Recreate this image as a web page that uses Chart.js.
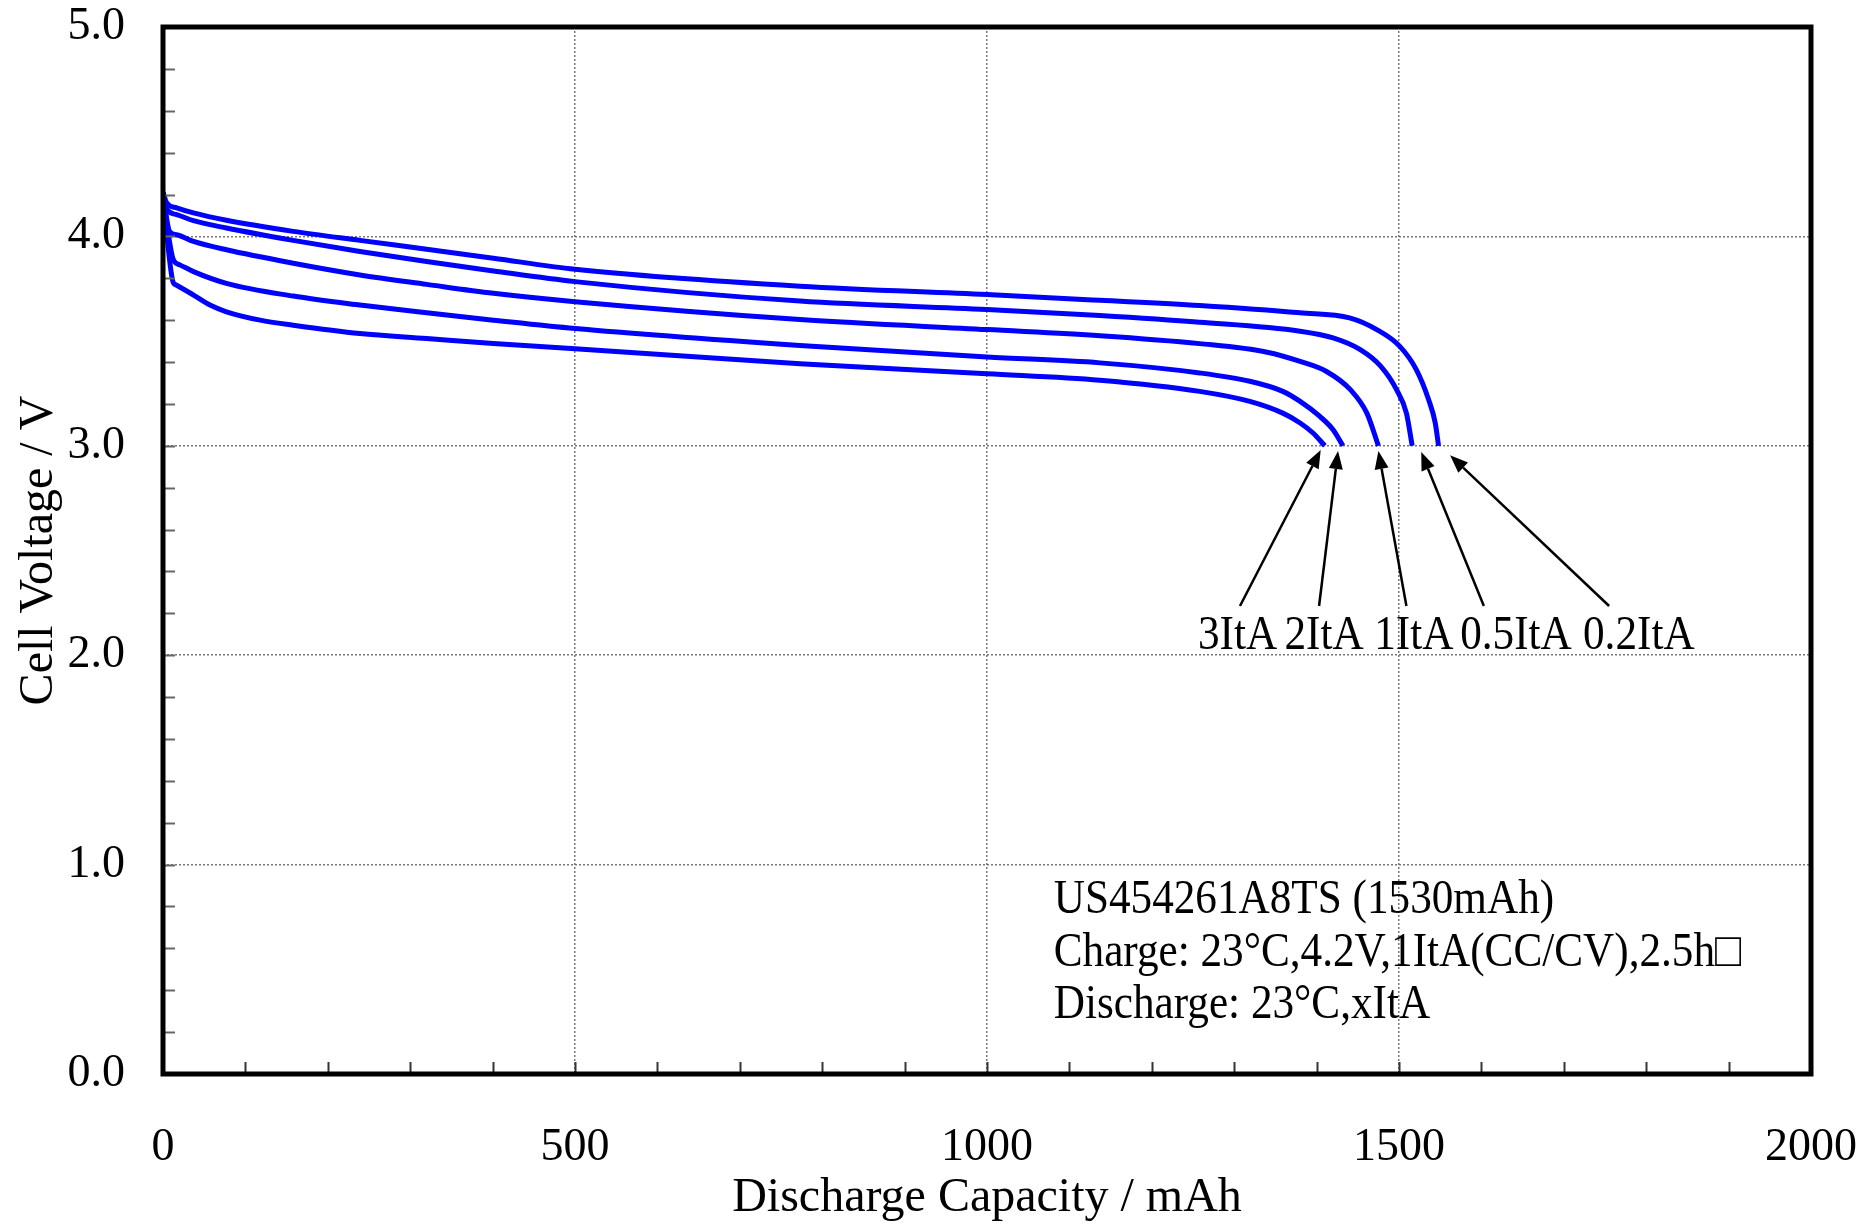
<!DOCTYPE html>
<html>
<head>
<meta charset="utf-8">
<title>Discharge characteristics</title>
<script src="https://cdn.jsdelivr.net/npm/chart.js@4.4.1/dist/chart.umd.min.js"></script>
<style>
  html, body { margin: 0; padding: 0; background: #fff; }
  canvas { display: block; }
</style>
</head>
<body>
<canvas id="dischargeChart" width="1865" height="1225"></canvas>
<script>
// ค่าที่อ่านจากกราฟ (mAh, V)
var capacity02 = [0, 4.5, 16.6, 37, 77, 158, 239, 320, 401, 500, 773, 1000, 1137, 1258, 1380, 1440, 1473, 1501, 1521, 1536, 1544, 1548];
var voltage02  = [4.21, 4.16, 4.136, 4.112, 4.077, 4.024, 3.981, 3.939, 3.896, 3.843, 3.762, 3.722, 3.695, 3.670, 3.635, 3.611, 3.555, 3.475, 3.364, 3.22, 3.109, 3.0];

var capacity05 = [0, 4.5, 16.6, 37, 77, 158, 239, 320, 401, 500, 773, 1000, 1137, 1258, 1380, 1420, 1453, 1478, 1497, 1509, 1516];
var voltage05  = [4.21, 4.131, 4.104, 4.075, 4.04, 3.981, 3.928, 3.88, 3.835, 3.784, 3.691, 3.651, 3.622, 3.59, 3.547, 3.515, 3.459, 3.379, 3.268, 3.156, 3.0];

var capacity1 = [0, 8, 16.6, 37, 77, 158, 239, 320, 401, 500, 773, 1000, 1137, 1258, 1340, 1380, 1412, 1441, 1461, 1475];
var voltage1  = [4.2, 4.024, 4.008, 3.976, 3.936, 3.872, 3.816, 3.771, 3.728, 3.688, 3.603, 3.555, 3.526, 3.488, 3.447, 3.403, 3.355, 3.268, 3.156, 3.0];

var capacity2 = [0, 12.6, 20, 37, 77, 158, 239, 320, 401, 500, 773, 1000, 1137, 1258, 1319, 1359, 1380, 1404, 1420, 1432];
var voltage2  = [4.19, 3.888, 3.865, 3.832, 3.776, 3.715, 3.672, 3.635, 3.6, 3.56, 3.479, 3.424, 3.396, 3.348, 3.308, 3.26, 3.212, 3.14, 3.077, 3.0];

var capacity3 = [0, 12, 16, 37, 57, 77, 118, 158, 239, 320, 401, 500, 773, 1000, 1137, 1258, 1319, 1359, 1380, 1396, 1410];
var voltage3  = [4.19, 3.785, 3.768, 3.72, 3.672, 3.64, 3.6, 3.576, 3.536, 3.512, 3.488, 3.464, 3.392, 3.344, 3.313, 3.26, 3.212, 3.156, 3.109, 3.06, 3.0];

// ป้ายกระแส + ลูกศร (ตำแหน่งเป็นค่าบนแกน)
var rateLabels = ["3ItA", "2ItA", "1ItA", "0.5ItA", "0.2ItA"];
var labelCenter = [1304, 1409, 1518, 1642, 1791];
var arrowTailX = [1307, 1403, 1509, 1603, 1755];
var arrowTipX  = [1405, 1426, 1475, 1527, 1562];
var arrowTipY  = [2.98, 2.975, 2.975, 2.97, 2.955];

var infoLines = [
  "US454261A8TS (1530mAh)",
  "Charge: 23°C,4.2V,1ItA(CC/CV),2.5h□",
  "Discharge: 23°C,xItA"
];
var infoBaseY = [0.767, 0.517, 0.267];

function toPoints(xs, ys) {
  return xs.map(function (x, i) { return { x: x, y: ys[i] }; });
}

var serif = "'Liberation Serif', 'Times New Roman', serif";

// วาดกรอบ, ขีดย่อย, ลูกศร และข้อความ
var decorPlugin = {
  id: 'decor',
  afterDatasetsDraw: function (chart) {
    var ctx = chart.ctx;
    var xs = chart.scales.x, ys = chart.scales.y;
    var a = chart.chartArea;
    ctx.save();

    // ขีดย่อยแกน y
    ctx.strokeStyle = '#666';
    ctx.lineWidth = 2;
    for (var v = 0.2; v < 5; v += 0.2) {
      var py = Math.round(ys.getPixelForValue(v)) + 0.5;
      ctx.beginPath();
      ctx.moveTo(a.left, py);
      ctx.lineTo(a.left + 12, py);
      ctx.stroke();
    }
    // ขีดย่อยแกน x
    ctx.strokeStyle = '#333';
    for (var c = 100; c < 2000; c += 100) {
      var px = Math.round(xs.getPixelForValue(c)) + 0.5;
      ctx.beginPath();
      ctx.moveTo(px, a.bottom);
      ctx.lineTo(px, a.bottom - 12);
      ctx.stroke();
    }

    // กรอบหนา
    ctx.strokeStyle = '#000';
    ctx.lineWidth = 5;
    ctx.strokeRect(a.left, a.top, a.right - a.left, a.bottom - a.top);

    // ลูกศร
    ctx.fillStyle = '#000';
    ctx.lineWidth = 2.5;
    for (var i = 0; i < rateLabels.length; i++) {
      var x1 = xs.getPixelForValue(arrowTailX[i]);
      var y1 = ys.getPixelForValue(2.235);
      var x2 = xs.getPixelForValue(arrowTipX[i]);
      var y2 = ys.getPixelForValue(arrowTipY[i]);
      var ang = Math.atan2(y2 - y1, x2 - x1);
      var hl = 18, hw = 7;
      var bx = x2 - hl * Math.cos(ang), by = y2 - hl * Math.sin(ang);
      ctx.beginPath();
      ctx.moveTo(x1, y1);
      ctx.lineTo(bx, by);
      ctx.stroke();
      ctx.beginPath();
      ctx.moveTo(x2, y2);
      ctx.lineTo(bx + hw * Math.sin(ang), by - hw * Math.cos(ang));
      ctx.lineTo(bx - hw * Math.sin(ang), by + hw * Math.cos(ang));
      ctx.closePath();
      ctx.fill();
    }

    // ข้อความ (ตัวอักษรแคบลงเล็กน้อยตามต้นฉบับ)
    ctx.font = "48px " + serif;
    ctx.textBaseline = 'alphabetic';
    for (var j = 0; j < rateLabels.length; j++) {
      ctx.save();
      ctx.translate(xs.getPixelForValue(labelCenter[j]), ys.getPixelForValue(2.03));
      ctx.scale(0.9, 1);
      ctx.textAlign = 'center';
      ctx.fillText(rateLabels[j], 0, 0);
      ctx.restore();
    }
    for (var k = 0; k < infoLines.length; k++) {
      ctx.save();
      ctx.translate(xs.getPixelForValue(1081), ys.getPixelForValue(infoBaseY[k]));
      ctx.scale(0.9, 1);
      ctx.textAlign = 'left';
      ctx.fillText(infoLines[k], 0, 0);
      ctx.restore();
    }
    ctx.restore();
  }
};

function curve(label, xs, ys) {
  return {
    label: label,
    data: toPoints(xs, ys),
    borderColor: '#0000ff',
    borderWidth: 5,
    pointRadius: 0,
    fill: false,
    cubicInterpolationMode: 'monotone'
  };
}

var ctx = document.getElementById("dischargeChart").getContext('2d');
var dischargeChart = new Chart(ctx, {
  type: 'line',
  data: {
    datasets: [
      curve("0.2ItA", capacity02, voltage02),
      curve("0.5ItA", capacity05, voltage05),
      curve("1ItA", capacity1, voltage1),
      curve("2ItA", capacity2, voltage2),
      curve("3ItA", capacity3, voltage3)
    ]
  },
  options: {
    responsive: false,
    animation: false,
    devicePixelRatio: 1,
    layout: { padding: { top: 27, right: 54, left: 0, bottom: 0 } },
    plugins: {
      legend: { display: false },
      tooltip: { enabled: false }
    },
    scales: {
      x: {
        type: 'linear',
        min: 0,
        max: 2000,
        afterFit: function (s) {
          s.height = 151;
          s.paddingLeft = 0;
          s.paddingRight = 0;
        },
        ticks: {
          stepSize: 500,
          color: '#000',
          padding: 46,
          maxRotation: 0,
          font: { family: serif, size: 46 },
          callback: function (v) { return String(v); }
        },
        grid: { color: '#777', lineWidth: 1.5, drawTicks: false },
        border: { display: false, dash: [2, 2] },
        title: {
          display: true,
          text: 'Discharge Capacity / mAh',
          color: '#000',
          font: { family: serif, size: 48, lineHeight: 1 },
          padding: { top: 0, bottom: 3 }
        }
      },
      y: {
        type: 'linear',
        min: 0,
        max: 5,
        afterFit: function (s) {
          s.width = 163;
          s.paddingTop = 0;
          s.paddingBottom = 0;
        },
        ticks: {
          stepSize: 1,
          color: '#000',
          padding: 38,
          font: { family: serif, size: 46 },
          callback: function (v) { return v.toFixed(1); }
        },
        grid: { color: '#777', lineWidth: 1.5, drawTicks: false },
        border: { display: false, dash: [2, 2] },
        title: {
          display: true,
          text: 'Cell Voltage / V',
          color: '#000',
          font: { family: serif, size: 48, lineHeight: 1 },
          padding: { top: 15, bottom: 0 }
        }
      }
    }
  },
  plugins: [decorPlugin]
});
</script>
</body>
</html>
